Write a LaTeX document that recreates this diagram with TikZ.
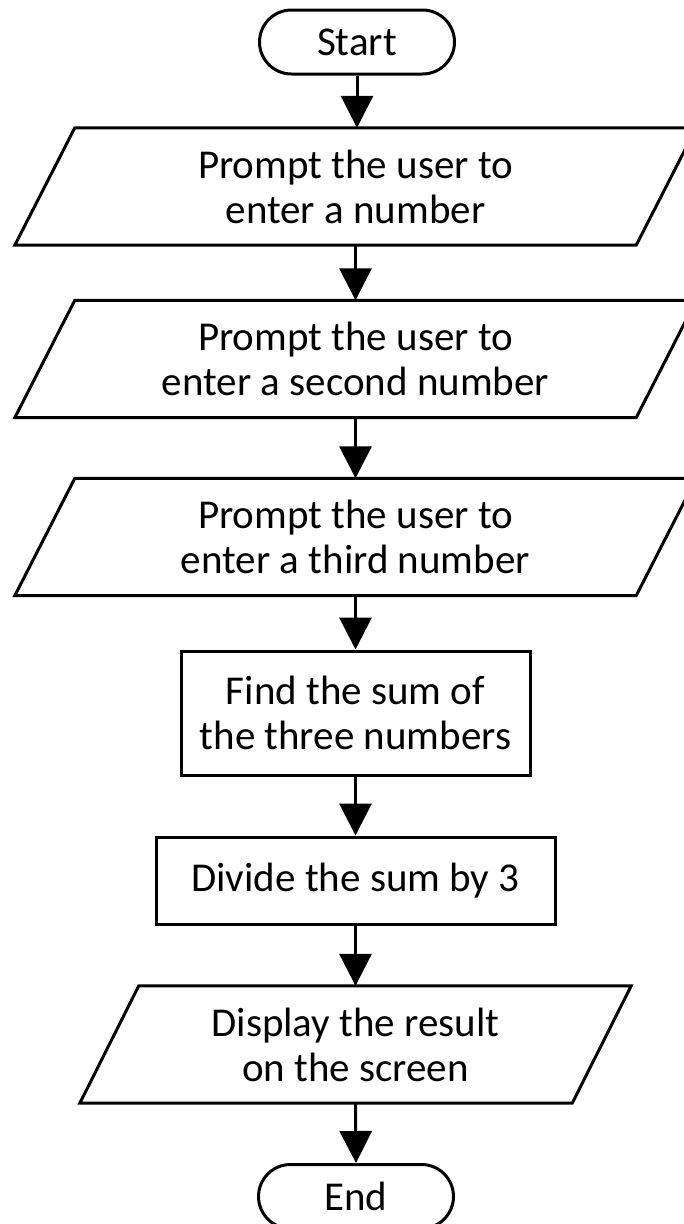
\documentclass[tikz,border=0pt]{standalone}
\usepackage{fontspec}
\setmainfont{Carlito}
\usetikzlibrary{arrows.meta}
\begin{document}
\begin{tikzpicture}[x=1pt,y=-1pt,
  every node/.style={font=\fontsize{41}{45}\selectfont, align=center, inner sep=0pt},
  term/.style={draw, line width=3pt, rounded corners=32pt, minimum width=195pt, minimum height=64pt},
  procbox/.style={draw, line width=3pt},
  iobox/.style={minimum height=117pt},
  conn/.style={line width=3pt, -{Triangle[width=32pt,length=32pt]}},
  outline/.style={line width=3pt}
]
\useasboundingbox (0,0) rectangle (684,1224);
\node[term] (start) at (357,42) {Start};
\node[iobox, minimum width=681pt] (p1) at (355.5,186.5) {Prompt the user to\\enter a number};
\node[iobox, minimum width=681pt] (p2) at (355.5,359) {Prompt the user to\\enter a second number};
\node[iobox, minimum width=681pt] (p3) at (355.5,537) {Prompt the user to\\enter a third number};
\node[procbox, minimum width=349pt, minimum height=124pt] (r1) at (355.5,713) {Find the sum of\\the three numbers};
\node[procbox, minimum width=399pt, minimum height=87pt] (r2) at (355.5,880.5) {Divide the sum by 3};
\node[iobox, minimum width=551pt] (p4) at (355.5,1044.5) {Display the result\\on the screen};
\node[term] (end) at (356,1196.5) {End};
\foreach \n in {p1,p2,p3}{
  \draw[outline] ([xshift=60pt]\n.north west) -- (\n.north east) -- ([xshift=-60pt]\n.south east) -- (\n.south west) -- cycle;
}
\draw[outline] ([xshift=59pt]p4.north west) -- (p4.north east) -- ([xshift=-59pt]p4.south east) -- (p4.south west) -- cycle;
\draw[conn] (start.south) -- (start.south |- p1.north);
\draw[conn] (p1.south) -- (p2.north);
\draw[conn] (p2.south) -- (p3.north);
\draw[conn] (p3.south) -- (r1.north);
\draw[conn] (r1.south) -- (r2.north);
\draw[conn] (r2.south) -- (p4.north);
\draw[conn] (p4.south) -- (end.north);
\end{tikzpicture}
\end{document}
